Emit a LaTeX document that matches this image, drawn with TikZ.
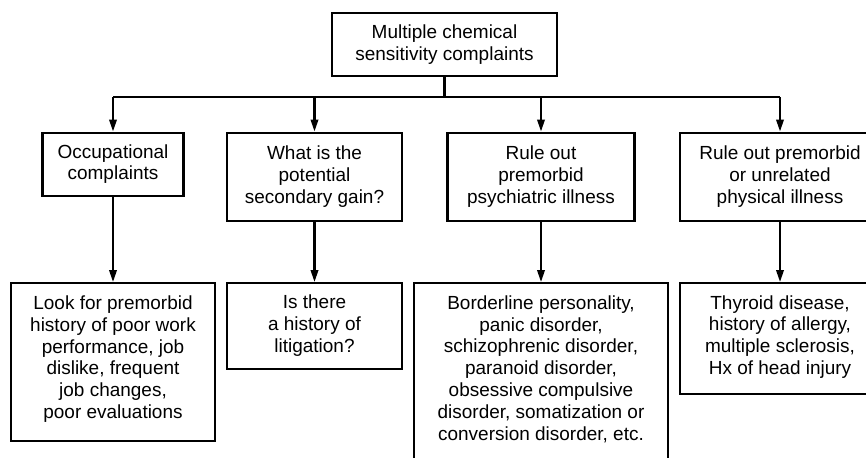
\documentclass[tikz,border=0pt]{standalone}
\usepackage{fontspec}
\setmainfont{Liberation Sans}
\usetikzlibrary{arrows.meta,positioning}

\begin{document}
\begin{tikzpicture}[
    box/.style={draw, line width=1.2pt, align=center, anchor=north, inner sep=0pt,
                font=\fontsize{10.8}{12.4}\selectfont},
    toptext/.style 2 args={text height=#1, text depth=#2},
    link/.style={line width=1.2pt},
    arr/.style={line width=1.2pt, -{Triangle[length=0.24cm,width=0.15cm]}}
]
    \useasboundingbox (0,0) rectangle (17.32,-9.14);

    % Top box
    \node[box, minimum width=4.5cm, minimum height=1.26cm] (mcs) at (8.89,-0.24) {Multiple chemical\\sensitivity complaints};
    \coordinate (bus) at (8.89,-1.94);

    % Second row
    \node[box, minimum width=2.82cm, minimum height=1.26cm] (occ) at (2.26,-2.63) {Occupational\\complaints};
    \node[box, minimum width=3.5cm, minimum height=1.76cm] (gain) at (6.29,-2.63) {What is the\\potential\\secondary gain?};
    \node[box, minimum width=3.74cm, minimum height=1.76cm] (psych) at (10.82,-2.63) {Rule out\\premorbid\\psychiatric illness};
    \node[box, minimum width=4.0cm, minimum height=1.76cm] (phys) at (15.6,-2.63) {Rule out premorbid\\or unrelated\\physical illness};

    % Third row (text sits at the top of each box)
    \node[box, toptext={2.71cm}{0.45cm}, minimum width=4.08cm] (work) at (2.26,-5.64) {Look for premorbid\\history of poor work\\performance, job\\dislike, frequent\\job changes,\\poor evaluations};
    \node[box, toptext={1.39cm}{0.33cm}, minimum width=3.5cm] (litig) at (6.29,-5.64) {Is there\\a history of\\litigation?};
    \node[box, toptext={3.14cm}{0.46cm}, minimum width=5.08cm] (disord) at (10.82,-5.64) {Borderline personality,\\panic disorder,\\schizophrenic disorder,\\paranoid disorder,\\obsessive compulsive\\disorder, somatization or\\conversion disorder, etc.};
    \node[box, toptext={1.83cm}{0.39cm}, minimum width=4.0cm] (thyr) at (15.6,-5.64) {Thyroid disease,\\history of allergy,\\multiple sclerosis,\\Hx of head injury};

    % Connectors
    \draw[link] (mcs) -- (bus);
    \draw[link] (occ.north |- bus) -- (phys.north |- bus);
    \draw[arr] (occ.north |- bus) -- (occ);
    \draw[arr] (gain.north |- bus) -- (gain);
    \draw[arr] (psych.north |- bus) -- (psych);
    \draw[arr] (phys.north |- bus) -- (phys);

    \draw[arr] (occ) -- (work);
    \draw[arr] (gain) -- (litig);
    \draw[arr] (psych) -- (disord);
    \draw[arr] (phys) -- (thyr);
\end{tikzpicture}
\end{document}
